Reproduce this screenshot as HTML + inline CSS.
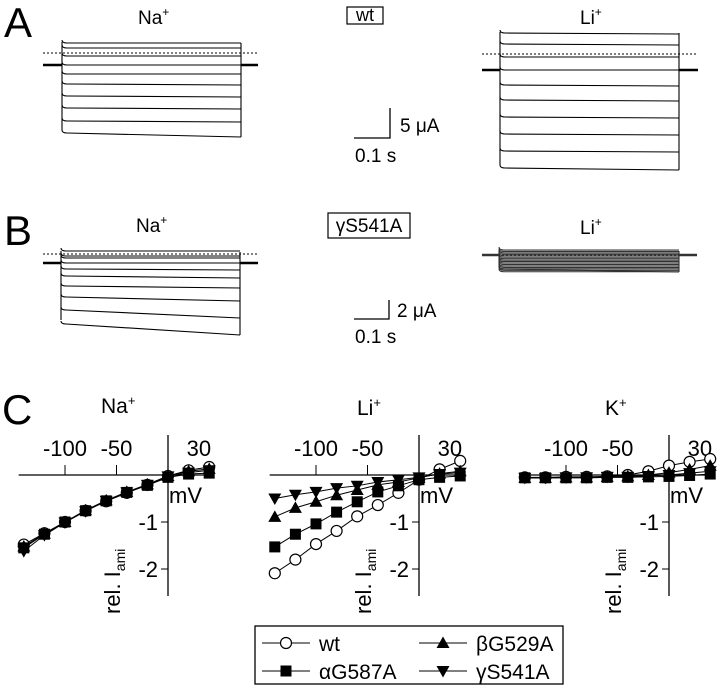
<!DOCTYPE html>
<html><head><meta charset="utf-8"><style>
html,body{margin:0;padding:0;background:#fff;}
svg{display:block;font-family:"Liberation Sans",Arial,sans-serif;}
</style></head><body>
<svg id="fig" width="720" height="687" viewBox="0 0 720 687" xmlns="http://www.w3.org/2000/svg">
<g id="traces" fill="none" stroke="#000" stroke-width="1.1"></g>
<g id="labels">
<text x="4" y="37" font-size="42">A</text>
<text x="138" y="24" font-size="19">Na<tspan font-size="12" dy="-8">+</tspan></text>
<rect x="347" y="7" width="36" height="17" fill="none" stroke="#000" stroke-width="1.2"/>
<text x="365" y="21" font-size="18" text-anchor="middle">wt</text>
<text x="580" y="24" font-size="19">Li<tspan font-size="12" dy="-8">+</tspan></text>
<path d="M390 108 V138 H354" fill="none" stroke="#000" stroke-width="1.3"/>
<text x="400" y="132" font-size="19">5 μA</text>
<text x="355" y="162" font-size="19">0.1 s</text>

<text x="4" y="245" font-size="42">B</text>
<text x="136" y="232" font-size="19">Na<tspan font-size="12" dy="-8">+</tspan></text>
<rect x="328" y="213" width="82" height="25" fill="none" stroke="#000" stroke-width="1.2"/>
<text x="369" y="232" font-size="19" text-anchor="middle">γS541A</text>
<text x="580" y="234" font-size="19">Li<tspan font-size="12" dy="-8">+</tspan></text>
<path d="M389 300 V319 H354" fill="none" stroke="#000" stroke-width="1.3"/>
<text x="397" y="317" font-size="19">2 μA</text>
<text x="355" y="343" font-size="19">0.1 s</text>

<text x="2" y="424" font-size="42">C</text>
<text x="101" y="413" font-size="21">Na<tspan font-size="13" dy="-8">+</tspan></text>
<text x="357" y="415" font-size="21">Li<tspan font-size="13" dy="-8">+</tspan></text>
<text x="605" y="415" font-size="21">K<tspan font-size="13" dy="-8">+</tspan></text>
</g>
<g id="charts"></g>
<g id="legend">
<rect x="255" y="626" width="308" height="58" fill="#fff" stroke="#000" stroke-width="1.3"/>
</g>
</svg>
<script>
const NS="http://www.w3.org/2000/svg";
function mk(parent,tag,attrs){const e=document.createElementNS(NS,tag);for(const k in attrs)e.setAttribute(k,attrs[k]);parent.appendChild(e);return e;}

// ---------- panel C data ----------
const voltages=[-140,-120,-100,-80,-60,-40,-20,0,20,40];
const xTicks=[-100,-50];
const xTickLabels=["-100","-50"];
const yTicks=[-1,-2];
const yTickLabels=["-1","-2"];
const seriesNames=["wt","alpha","beta","gamma"];
const naWt=[-1.48,-1.24,-1.0,-0.76,-0.56,-0.38,-0.21,-0.02,0.1,0.17];
const naAlpha=[-1.55,-1.26,-1.0,-0.76,-0.55,-0.37,-0.22,-0.05,0.02,0.04];
const naBeta=[-1.52,-1.25,-1.0,-0.75,-0.54,-0.36,-0.2,-0.02,0.08,0.13];
const naGamma=[-1.62,-1.28,-1.01,-0.77,-0.55,-0.37,-0.21,-0.03,0.05,0.1];
const liWt=[-2.09,-1.8,-1.47,-1.19,-0.88,-0.64,-0.38,-0.1,0.12,0.3];
const liAlpha=[-1.53,-1.26,-1.04,-0.79,-0.57,-0.36,-0.23,-0.1,-0.05,-0.02];
const liBeta=[-0.89,-0.7,-0.57,-0.43,-0.32,-0.21,-0.15,-0.06,0.03,0.08];
const liGamma=[-0.5,-0.42,-0.36,-0.28,-0.23,-0.15,-0.1,-0.05,0.02,0.05];
const kWt=[-0.05,-0.05,-0.04,-0.04,-0.03,0.0,0.08,0.2,0.28,0.34];
const kAlpha=[-0.06,-0.06,-0.06,-0.06,-0.05,-0.05,-0.04,-0.03,-0.01,0.02];
const kBeta=[-0.06,-0.06,-0.05,-0.05,-0.04,-0.03,0.0,0.05,0.12,0.2];
const kGamma=[-0.06,-0.06,-0.05,-0.05,-0.04,-0.04,-0.02,0.0,0.04,0.08];

const panels=[
 {name:"na",x0:168,series:[naWt,naAlpha,naBeta,naGamma]},
 {name:"li",x0:419,series:[liWt,liAlpha,liBeta,liGamma]},
 {name:"k",x0:669,series:[kWt,kAlpha,kBeta,kGamma]}
];
const seriesOrder=["wt","alpha","beta","gamma"];
const Y0=475, YS=47, XS=1.03;
function sx(p,v){return p.x0+v*XS;}
function sy(v){return Y0-v*YS;}

function marker(g,type,x,y){
  let e;
  if(type==="wt") e=mk(g,"circle",{cx:x,cy:y,r:5.5,fill:"#fff",stroke:"#000","stroke-width":1.2});
  else if(type==="alpha") e=mk(g,"rect",{x:x-5.5,y:y-5.5,width:11,height:11,fill:"#000"});
  else if(type==="beta") e=mk(g,"polygon",{points:`${x},${y-6.5} ${x+6.5},${y+5} ${x-6.5},${y+5}`,fill:"#000"});
  else e=mk(g,"polygon",{points:`${x},${y+6.5} ${x+6.5},${y-5} ${x-6.5},${y-5}`,fill:"#000"});
  return e;
}

const charts=document.getElementById("charts");
panels.forEach(p=>{
  const g=mk(charts,"g",{});
  
  
  const xa=mk(g,"line",{x1:sx(p,-145),y1:Y0,x2:sx(p,43),y2:Y0,stroke:"#000","stroke-width":1.3});
  
  
  const ya=mk(g,"line",{x1:p.x0,y1:435,x2:p.x0,y2:596,stroke:"#000","stroke-width":1.3});
  
  
  xTicks.forEach((t,i)=>{
    const tk=mk(g,"line",{x1:sx(p,t),y1:Y0,x2:sx(p,t),y2:Y0-10,stroke:"#000","stroke-width":1});
    
    
    const tl=mk(g,"text",{x:sx(p,t),y:456,"font-size":22,"text-anchor":"middle"});
    tl.textContent=xTickLabels[i];
    
    
  });
  const t30=mk(g,"text",{x:sx(p,30),y:456,"font-size":22,"text-anchor":"middle"});
  t30.textContent="30";
  
  
  const mv=mk(g,"text",{x:p.x0+1,y:503,"font-size":22});
  mv.textContent="mV";
  
  
  yTicks.forEach((t,i)=>{
    const tk=mk(g,"line",{x1:p.x0-7,y1:sy(t),x2:p.x0,y2:sy(t),stroke:"#000","stroke-width":1});
    
    
    const tl=mk(g,"text",{x:p.x0-10,y:sy(t)+8,"font-size":22,"text-anchor":"end"});
    tl.textContent=yTickLabels[i];
    
    
  });
  const yl=mk(g,"text",{x:0,y:0,"font-size":22,transform:`translate(${p.x0-48},614) rotate(-90)`});
  yl.innerHTML='rel. I<tspan font-size="14" dy="5">ami</tspan>';
  
  
  p.series.forEach((vals,si)=>{
    const type=seriesOrder[si];
    const sg=mk(g,"g",{});
    
    
    const pts=voltages.map((v,i)=>sx(p,v)+","+sy(vals[i])).join(" ");
    const ln=mk(sg,"polyline",{points:pts,fill:"none",stroke:"#000","stroke-width":1});
    
    
    voltages.forEach((v,i)=>{
      const m=marker(sg,type,sx(p,v),sy(vals[i]));
      
      
    });
  });
});

// legend
const leg=document.getElementById("legend");
const legItems=[["wt",262,643,"wt"],["alpha",262,671,"αG587A"],["beta",419,643,"βG529A"],["gamma",419,671,"γS541A"]];
legItems.forEach(it=>{
  const g=mk(leg,"g",{});
  
  
  mk(g,"line",{x1:it[1],y1:it[2],x2:it[1]+48,y2:it[2],stroke:"#000","stroke-width":1});
  marker(g,it[0],it[1]+24,it[2]);
  const t=mk(g,"text",{x:it[1]+57,y:it[2]+8,"font-size":21});
  t.textContent=it[3];
});

// ---------- current traces ----------
const tr=document.getElementById("traces");
function tracePanel(name,xl,xr,top,bottomL,rows,dotY,baseY,baseL,baseR,color){
  const g=mk(tr,"g",{stroke:color||"#000"});
  
  
  mk(g,"line",{x1:baseL,y1:dotY,x2:baseR,y2:dotY,"stroke-dasharray":"2,2","stroke-width":0.9});
  mk(g,"line",{x1:baseL,y1:baseY,x2:xl,y2:baseY,"stroke-width":2.4});
  mk(g,"line",{x1:xr,y1:baseY,x2:baseR,y2:baseY,"stroke-width":2.4});
  mk(g,"path",{d:`M${xl} ${top} V${bottomL}`});
  rows.forEach(r=>{
    mk(g,"path",{d:`M${xl} ${r[0]-3} Q${xl} ${r[0]} ${xl+5} ${r[0]} L${xr} ${r[1]}`});
  });
  const last=rows[rows.length-1];
  mk(g,"path",{d:`M${xr} ${top+1} V${last[1]}`});
}
tracePanel("trace-a-na",62,241,42,130,[[43,43],[48,48],[56,56],[65,65],[74,74],[84,85],[96,97],[108,109],[121,122],[133,137]],53,65,43,258);
tracePanel("trace-a-li",500,679,32,165,[[33,34],[44,45],[57,57],[70,70],[85,86],[100,101],[117,118],[134,135],[151,152],[168,170]],54,70,482,698);
tracePanel("trace-b-na",61,240,251,320,[[251,251],[256,256],[258,258],[263,263],[269,270],[276,278],[286,288],[297,301],[310,318],[324,335]],254,263,43,258);
(function(){
  const rows=[];
  for(let i=0;i<16;i++){const y=250+i*1.45;rows.push([y,y]);}
  rows.push([269,272]);
  tracePanel("trace-b-li",499,679,250,268,rows,255,255,482,697,"#333");
})();
</script>
</body></html>
